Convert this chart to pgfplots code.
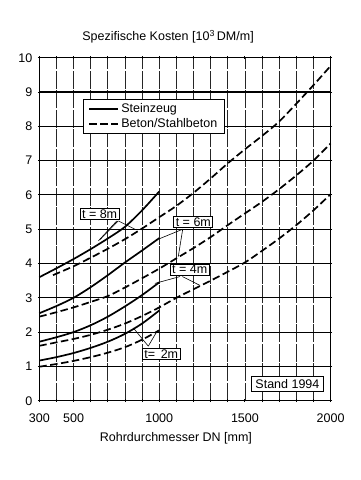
\documentclass[border=0pt]{standalone}
\usepackage{pgfplots}
\pgfplotsset{compat=1.18}
\usepackage{fontspec}
\setmainfont{Liberation Sans}
\begin{document}
\begin{tikzpicture}[x=1pt,y=1pt]
\path[use as bounding box] (0,0) rectangle (360,480);
\begin{axis}[
  at={(39.3pt,79.3pt)}, anchor=south west,
  scale only axis, width=291.3pt, height=343pt,
  xmin=300, xmax=2000, ymin=0, ymax=10,
  xtick={300,500,1000,1500,2000},
  minor xtick={400,600,700,800,900,1100,1200,1300,1400,1600,1700,1800,1900},
  ytick={0,1,...,10},
  xticklabel style={font=\fontsize{12.5}{14}\selectfont, yshift=-8pt},
  yticklabel style={font=\fontsize{12.5}{14}\selectfont, xshift=-2pt},
  /pgf/number format/assume math mode=true,
  /pgf/number format/set thousands separator={},
  tick style={black, line width=0.9pt},
  major tick length=3pt, minor tick length=3pt,
  tick align=center,
  xmajorgrids, xminorgrids, ymajorgrids,
  major x grid style={black!85, line width=0.7pt, dash pattern=on 18pt off 1.5pt},
  minor x grid style={black!85, line width=0.7pt, dash pattern=on 18pt off 1.5pt},
  major y grid style={black, line width=1.2pt},
  axis line style={black, line width=1.1pt},
  legend style={at={(axis description cs:0.149,0.879)}, anchor=north west,
    draw=black, line width=0.9pt, fill=white, font=\fontsize{12.5}{14}\selectfont,
    inner xsep=5pt, inner ysep=2pt, row sep=0.5pt,
    nodes={inner xsep=2.5pt}},
  legend cell align=left,
  legend image post style={line width=1.7pt},
  legend image code/.code={\draw[#1] (0pt,0pt) -- (29pt,0pt);},
  clip=false,
]
\pgfplotstableread{
x y
300 3.60
400 3.86
500 4.13
600 4.42
700 4.73
800 5.07
900 5.55
1000 6.10
}\stEight
\pgfplotstableread{
x y
380 3.66
500 3.92
600 4.17
700 4.43
800 4.71
900 5.02
1000 5.35
1100 5.68
1200 6.06
1300 6.48
1400 6.92
1500 7.33
1600 7.72
1700 8.14
1800 8.66
1900 9.20
2000 9.76
}\beEight
\pgfplotstableread{
x y
300 2.55
400 2.76
500 3.00
600 3.31
700 3.66
800 4.03
900 4.38
1000 4.74
}\stSix
\pgfplotstableread{
x y
300 2.45
400 2.58
500 2.72
600 2.88
700 3.05
800 3.30
900 3.57
1000 3.85
1100 4.15
1200 4.45
1300 4.77
1400 5.12
1500 5.46
1600 5.80
1700 6.17
1800 6.57
1900 7.00
2000 7.50
}\beSix
\pgfplotstableread{
x y
300 1.72
400 1.85
500 2.00
600 2.20
700 2.45
800 2.75
900 3.08
1000 3.45
}\stFour
\pgfplotstableread{
x y
300 1.60
400 1.70
500 1.80
600 1.92
700 2.07
800 2.25
900 2.47
1000 2.72
1100 3.00
1200 3.25
1300 3.50
1400 3.76
1500 4.03
1600 4.37
1700 4.73
1800 5.12
1900 5.55
2000 6.02
}\beFour
\pgfplotstableread{
x y
300 1.17
400 1.27
500 1.39
600 1.54
700 1.72
800 1.95
900 2.25
1000 2.63
}\stTwo
\pgfplotstableread{
x y
300 0.99
400 1.07
500 1.16
600 1.27
700 1.40
800 1.56
900 1.78
1000 2.05
}\beTwo
\addplot[black, line width=1.7pt, smooth] table {\stEight};
\addlegendentry{Steinzeug}
\addplot[black, line width=1.7pt, smooth, dash pattern=on 7.5pt off 3.5pt] table {\beEight};
\addlegendentry{Beton/Stahlbeton}
\addplot[black, line width=1.7pt, smooth, forget plot] table {\stSix};
\addplot[black, line width=1.7pt, smooth, dash pattern=on 7.5pt off 3.5pt, forget plot] table {\beSix};
\addplot[black, line width=1.7pt, smooth, forget plot] table {\stFour};
\addplot[black, line width=1.7pt, smooth, dash pattern=on 7.5pt off 3.5pt, forget plot] table {\beFour};
\addplot[black, line width=1.7pt, smooth, forget plot] table {\stTwo};
\addplot[black, line width=1.7pt, smooth, dash pattern=on 7.5pt off 3.5pt, forget plot] table {\beTwo};
% leaders
\draw[black, line width=0.6pt] (axis cs:752,5.24) -- (axis cs:645,4.66);
\draw[black, line width=0.6pt] (axis cs:760,5.24) -- (axis cs:655,4.70);
\draw[black, line width=0.6pt] (axis cs:762,5.24) -- (axis cs:858,5.0);
\draw[black, line width=0.6pt] (axis cs:1137,5.0) -- (axis cs:1000,4.72);
\draw[black, line width=0.6pt] (axis cs:1137,5.0) -- (axis cs:1111,4.2);
\draw[black, line width=0.6pt] (axis cs:1121,3.62) -- (axis cs:975,3.42);
\draw[black, line width=0.6pt] (axis cs:1098,3.62) -- (axis cs:1098,3.02);
\draw[black, line width=0.6pt] (axis cs:1135,3.62) -- (axis cs:1238,3.36);
\draw[black, line width=0.6pt] (axis cs:936,1.59) -- (axis cs:849,2.12);
\draw[black, line width=0.6pt] (axis cs:936,1.59) -- (axis cs:990,2.05);
% labels
\node[draw=black, line width=0.9pt, fill=white, inner xsep=2pt, inner ysep=1pt, font=\fontsize{12.5}{14}\selectfont] at (axis cs:652,5.45) {t = 8m};
\node[draw=black, line width=0.9pt, fill=white, inner xsep=2pt, inner ysep=1pt, font=\fontsize{12.5}{14}\selectfont] at (axis cs:1199,5.2) {t = 6m};
\node[draw=black, line width=0.9pt, fill=white, inner xsep=2pt, inner ysep=1pt, font=\fontsize{12.5}{14}\selectfont] at (axis cs:1178,3.82) {t = 4m};
\node[draw=black, line width=0.9pt, fill=white, inner xsep=2pt, inner ysep=1pt, font=\fontsize{12.5}{14}\selectfont] at (axis cs:1012,1.37) {t=\, 2m};
\node[draw=black, line width=0.9pt, fill=white, inner xsep=4pt, inner ysep=3pt, font=\fontsize{12.5}{14}\selectfont] at (axis cs:1748,0.5) {Stand 1994};
\node[font=\fontsize{12.5}{14}\selectfont] at (rel axis cs:0.442,1.061) {Spezifische Kosten [10\textsuperscript{3}\,DM/m]};
\node[font=\fontsize{12.5}{14}\selectfont] at (rel axis cs:0.469,-0.11) {Rohrdurchmesser DN [mm]};
\end{axis}
\end{tikzpicture}
\end{document}
